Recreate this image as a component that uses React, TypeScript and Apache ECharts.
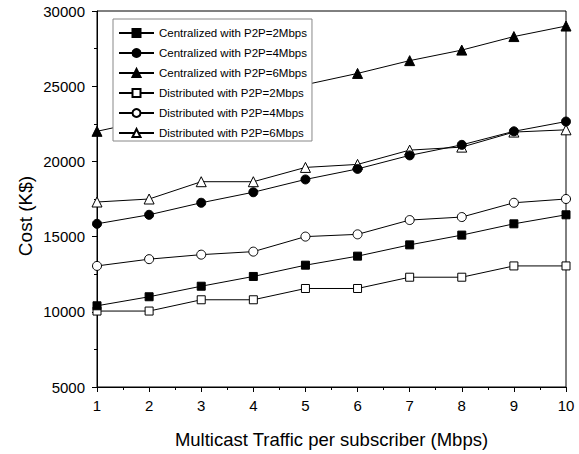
import React, { useEffect, useRef } from "react";
import * as echarts from "echarts";

const traffic = [1, 2, 3, 4, 5, 6, 7, 8, 9, 10];
const seriesNames = [
  "Centralized with P2P=2Mbps",
  "Centralized with P2P=4Mbps",
  "Centralized with P2P=6Mbps",
  "Distributed with P2P=2Mbps",
  "Distributed with P2P=4Mbps",
  "Distributed with P2P=6Mbps",
];
const centralized2 = [10400, 11000, 11700, 12350, 13100, 13700, 14450, 15100, 15850, 16450];
const centralized4 = [15850, 16450, 17250, 17950, 18800, 19500, 20400, 21100, 22000, 22650];
const centralized6 = [22000, 22750, 23550, 24300, 25100, 25850, 26700, 27400, 28300, 29000];
const distributed2 = [10050, 10050, 10800, 10800, 11550, 11550, 12300, 12300, 13050, 13050];
const distributed4 = [13050, 13500, 13800, 14000, 15000, 15150, 16100, 16300, 17250, 17500];
const distributed6 = [17300, 17500, 18650, 18650, 19600, 19800, 20750, 20950, 21950, 22100];
const yTicks = { min: 5000, max: 30000, interval: 5000 };

const FONT = "Liberation Sans, Arial, sans-serif";

export default function App() {
  const ref = useRef<HTMLDivElement>(null);
  useEffect(() => {
    if (!ref.current) return;
    document.body.style.margin = "0";
    const chart = echarts.init(ref.current, null, { renderer: "svg" });
    const values = [centralized2, centralized4, centralized6, distributed2, distributed4, distributed6];
    const symbols = ["rect", "circle", "triangle", "rect", "circle", "triangle"];
    const sizes = [8, 9, 10, 8, 9, 10];
    const series = values.map((vals, i) => ({
      name: seriesNames[i],
      type: "line",
      data: traffic.map((x, j) => [x, vals[j]]),
      symbol: symbols[i],
      symbolSize: sizes[i],
      showAllSymbol: true,
      lineStyle: { color: "#000", width: 1 },
      itemStyle: {
        color: i < 3 ? "#000" : "#fff",
        borderColor: "#000",
        borderWidth: 1,
      },
      z: i < 3 ? 3 : 2,
    }));
    chart.setOption({
      animation: false,
      backgroundColor: "#fff",
      textStyle: { fontFamily: FONT },
      grid: {
        left: 97,
        right: 13,
        top: 11,
        bottom: 61,
        show: true,
        borderColor: "#000",
        borderWidth: 1,
        backgroundColor: "transparent",
      },
      legend: {
        orient: "vertical",
        left: 113,
        top: 19,
        padding: [8, 5, 2, 5],
        itemGap: 8,
        itemWidth: 35,
        itemHeight: 10,
        backgroundColor: "#fff",
        borderColor: "#888",
        borderWidth: 1,
        z: 10,
        textStyle: { fontFamily: FONT, fontSize: 11.5, color: "#000" },
        data: seriesNames,
      },
      xAxis: {
        type: "value",
        min: 1,
        max: 10,
        interval: 1,
        name: "Multicast Traffic per subscriber (Mbps)",
        nameLocation: "middle",
        nameGap: 43,
        nameTextStyle: { fontFamily: FONT, fontSize: 18.5, color: "#000" },
        axisLine: { lineStyle: { color: "#000", width: 1 } },
        axisTick: { length: 5, lineStyle: { color: "#000" } },
        minorTick: { show: true, splitNumber: 2, length: 3, lineStyle: { color: "#000" } },
        splitLine: { show: false },
        axisLabel: { fontFamily: FONT, fontSize: 15, color: "#000", margin: 11 },
      },
      yAxis: {
        type: "value",
        min: yTicks.min,
        max: yTicks.max,
        interval: yTicks.interval,
        axisLine: { show: true, lineStyle: { color: "#000", width: 1 } },
        axisTick: { show: true, length: 5, lineStyle: { color: "#000" } },
        minorTick: { show: true, splitNumber: 2, length: 3, lineStyle: { color: "#000" } },
        splitLine: { show: false },
        axisLabel: {
          fontFamily: FONT,
          fontSize: 15,
          color: "#000",
          margin: 12,
          formatter: (v: number) => String(v),
        },
      },
      graphic: [
        {
          type: "text",
          x: 25,
          y: 216,
          rotation: Math.PI / 2,
          style: {
            text: "Cost (K$)",
            fontFamily: FONT,
            fontSize: 19,
            fill: "#000",
            align: "center",
            verticalAlign: "middle",
          },
        },
      ],
      series,
    });
    return () => chart.dispose();
  }, []);
  return <div ref={ref} style={{ width: 579, height: 454 }} />;
}
